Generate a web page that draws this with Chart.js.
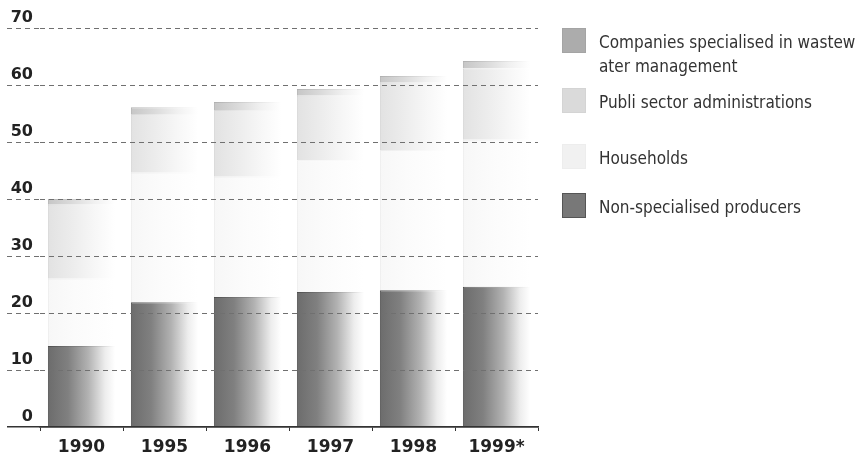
<!DOCTYPE html>
<html>
<head>
<meta charset="utf-8">
<script src="https://cdn.jsdelivr.net/npm/chart.js@4"></script>
<style>
  html, body { margin: 0; padding: 0; background: #fff; }
  #wrap { position: relative; width: 860px; height: 459px; overflow: hidden; }
  #c { position: absolute; left: 0; top: 0; }
  #legend {
    position: absolute; left: 562px; top: 0; width: 298px;
    font-family: "DejaVu Sans Condensed", "Liberation Sans Narrow", Roboto, sans-serif;
    font-size: 17px; color: #333;
  }
  .item { position: absolute; left: 0; display: flex; align-items: flex-start; }
  .sw { width: 24px; height: 25px; margin-top: -2px; margin-right: 13px; flex: none; box-sizing: border-box; }
  .txt { line-height: 24px; white-space: pre; }
</style>
</head>
<body>
<div id="wrap">
  <canvas id="c" width="860" height="459"></canvas>
  <div id="legend"></div>
</div>
<script>
// Categories and series (stacked bottom to top)
const years = ['1990', '1995', '1996', '1997', '1998', '1999*'];
const nonSpecialised = [14.2, 21.9, 22.8, 23.7, 24.0, 24.6];
const households     = [11.8, 22.7, 21.1, 23.1, 24.6, 25.8];
const publicSector   = [13.0, 10.3, 11.7, 11.3, 11.8, 12.5];
const companies      = [1.0, 1.2, 1.4, 1.2, 1.2, 1.3];
const yTicks = [0, 10, 20, 30, 40, 50, 60, 70];

const seriesLabels = [
  'Companies specialised in wastew\nater management',
  'Publi sector administrations',
  'Households',
  'Non-specialised producers'
];

// Styling
const BAR_FRACTION = 0.81;
const gridGray = '#707070';
const axisDark = '#333';
const fillStops = {
  companies: [[0, '#c6c6c6'], [0.35, '#dadada'], [0.7, '#f1f1f1'], [1, '#ffffff']],
  publicSector: [[0, '#e2e2e2'], [0.35, '#ececec'], [0.7, '#f7f7f7'], [1, '#ffffff']],
  households: [[0, '#f7f7f7'], [0.4, '#fbfbfb'], [1, '#ffffff']],
  nonSpecialised: [[0, '#6c6c6c'], [0.3, '#808080'], [0.6, '#b2b2b2'], [0.85, '#ededed'], [1, '#ffffff']]
};
const edgeStops = {
  companies: [[0, '#b0b0b0'], [0.5, '#d6d6d6'], [1, '#ffffff']],
  publicSector: [[0, '#d6d6d6'], [0.5, '#eeeeee'], [1, '#ffffff']],
  households: [[0, '#ececec'], [1, '#ffffff']],
  nonSpecialised: [[0, '#4e4e4e'], [0.5, '#8a8a8a'], [1, '#ffffff']]
};
const swatchColors = ['#acacac', '#dadada', '#f1f1f1', '#787878'];
const swatchBorders = ['#a4a4a4', '#d4d4d4', '#ededed', '#555555'];

// Horizontal gradient spanning one bar, placed through the x scale
function barGradient(stops) {
  return (ctx) => {
    const chart = ctx.chart;
    const xs = chart.scales && chart.scales.x;
    if (!chart.chartArea || !xs || ctx.dataIndex === undefined) return stops[0][1];
    const cx = xs.getPixelForValue(ctx.dataIndex);
    const w = (xs.width / years.length) * BAR_FRACTION;
    const g = chart.ctx.createLinearGradient(cx - w / 2, 0, cx + w / 2, 0);
    stops.forEach(([o, c]) => g.addColorStop(o, c));
    return g;
  };
}

function series(label, data, key) {
  return {
    label: label,
    data: data,
    backgroundColor: barGradient(fillStops[key]),
    borderColor: barGradient(edgeStops[key]),
    borderWidth: { top: 1, left: 1, right: 0, bottom: 0 },
    borderSkipped: 'start'
  };
}

const isZero = (c) => c.tick && c.tick.value === 0;

new Chart(document.getElementById('c'), {
  type: 'bar',
  data: {
    labels: years,
    datasets: [
      series(seriesLabels[3], nonSpecialised, 'nonSpecialised'),
      series(seriesLabels[2], households, 'households'),
      series(seriesLabels[1], publicSector, 'publicSector'),
      series(seriesLabels[0], companies, 'companies')
    ]
  },
  options: {
    responsive: false,
    animation: false,
    events: [],
    datasets: { bar: { categoryPercentage: 1, barPercentage: BAR_FRACTION } },
    layout: { padding: { left: 7, right: 322, top: 28, bottom: 0 } },
    plugins: { legend: { display: false }, tooltip: { enabled: false } },
    scales: {
      x: {
        stacked: true,
        afterFit: (s) => { s.height = 32; },
        border: { display: true, color: axisDark, width: 1.5 },
        grid: {
          display: true, drawOnChartArea: false, drawTicks: true, offset: true,
          tickLength: 4, tickColor: axisDark, tickWidth: 1
        },
        ticks: {
          padding: 6, color: '#222',
          font: { family: 'DejaVu Sans', size: 17, weight: 'bold' }
        }
      },
      y: {
        stacked: true,
        min: 0, max: 70,
        afterBuildTicks: (s) => { s.ticks = yTicks.map(v => ({ value: v })); },
        afterFit: (s) => { s.width = 33; },
        border: {
          display: false,
          dash: (c) => isZero(c) ? [] : [5, 4]
        },
        grid: {
          z: 1,
          color: (c) => isZero(c) ? axisDark : gridGray,
          lineWidth: (c) => isZero(c) ? 1.5 : 1,
          drawTicks: true,
          tickLength: 33,
          tickColor: (c) => isZero(c) ? axisDark : gridGray,
          tickWidth: (c) => isZero(c) ? 1.5 : 1,
          tickBorderDash: (c) => isZero(c) ? [] : [5, 4]
        },
        ticks: {
          padding: -26, labelOffset: -10, color: '#222',
          font: { family: 'DejaVu Sans', size: 16, weight: 'bold' }
        }
      }
    }
  }
});

// Legend, listed top to bottom like the stack
const legendTops = [30, 90, 146, 195];
const legendEl = document.getElementById('legend');
seriesLabels.forEach((label, i) => {
  const item = document.createElement('div');
  item.className = 'item';
  item.style.top = legendTops[i] + 'px';
  const sw = document.createElement('div');
  sw.className = 'sw';
  sw.style.background = swatchColors[i];
  sw.style.border = '1px solid ' + swatchBorders[i];
  const txt = document.createElement('div');
  txt.className = 'txt';
  txt.textContent = label;
  item.appendChild(sw);
  item.appendChild(txt);
  legendEl.appendChild(item);
});
</script>
</body>
</html>
